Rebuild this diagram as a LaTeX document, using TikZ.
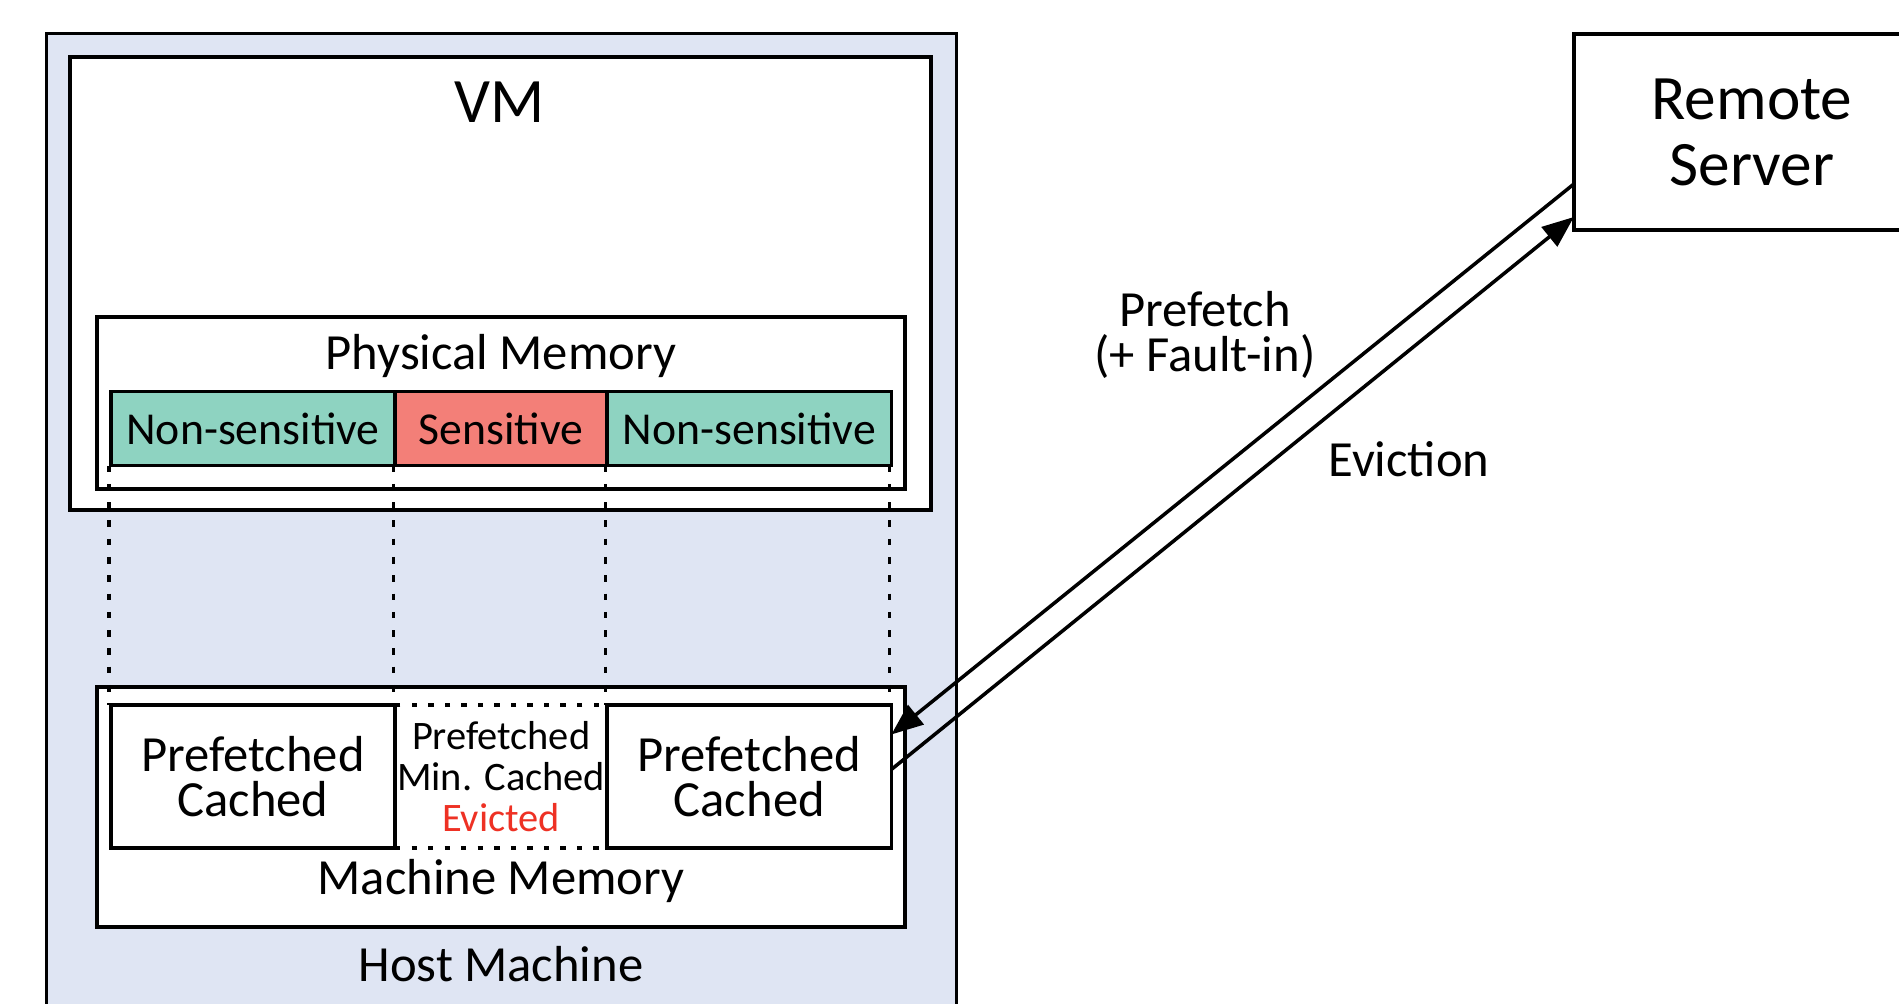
\documentclass[tikz,border=0pt]{standalone}
\usepackage{fontspec}
\setmainfont{Carlito}
\usetikzlibrary{arrows.meta,positioning,calc}

\definecolor{hostblue}{HTML}{DFE5F3}
\definecolor{nsgreen}{HTML}{8ED3C1}
\definecolor{sensred}{HTML}{F37F78}
\definecolor{evictred}{HTML}{EE3124}

\newcommand{\headtxt}{\fontsize{18}{18.8}\selectfont}
\newcommand{\bodytxt}{\fontsize{14.4}{12.8}\selectfont}
\newcommand{\segtxt}{\fontsize{13}{14}\selectfont}
\newcommand{\midtxt}{\fontsize{11.5}{11.6}\selectfont}

\begin{document}
\begin{tikzpicture}[x=0.01cm, y=-0.01cm,
                    every node/.style={inner sep=0pt, outer sep=0pt},
                    box/.style={draw, line width=1pt},
                    seg/.style={box, minimum height=7.4mm, font=\segtxt},
                    cache/.style={box, fill=white, minimum width=28.4mm, minimum height=14.3mm, align=center, font=\bodytxt},
                    link/.style={line width=1pt, -{Triangle[length=9pt,width=7pt]}},
                    gap/.style={line width=0.9pt, dash pattern=on 1.9pt off 3.3pt},
                    dotbox/.style={draw, line width=1pt, dash pattern=on 1.5pt off 3.2pt}]
\useasboundingbox (0,0) rectangle (1899,1004);

% host machine and VM
\node[box, fill=hostblue, minimum width=90.9mm, minimum height=100.6mm] (host) at (501.5,537) {};
\node[anchor=base, font=\bodytxt] (hostlbl) at (501,982) {Host Machine};
\node[box, fill=white, minimum width=86.1mm, minimum height=45.3mm] (vm) at (500.5,283.5) {};
\node[anchor=base, font=\headtxt] (vmlbl) at (500,123) {VM};

% physical memory
\node[box, fill=white, minimum width=80.8mm, minimum height=17.2mm] (phys) at (501,403) {};
\node[anchor=base, font=\bodytxt] (physlbl) at (501,370) {Physical Memory};
\node[seg, fill=nsgreen, minimum width=28.4mm] (ns1) at (253,428.5) {Non-sensitive};
\node[seg, fill=sensred, minimum width=21.2mm, right=0pt of ns1] (sens) {Sensitive};
\node[seg, fill=nsgreen, minimum width=28.4mm, right=0pt of sens] (ns2) {Non-sensitive};

% machine memory
\node[box, fill=white, minimum width=80.8mm, minimum height=24mm] (mach) at (501,807) {};
\node[anchor=base, font=\bodytxt] (machlbl) at (501,895) {Machine Memory};
\node[cache] (lcache) at (253,776.5) {Prefetched\\Cached};
\node[dotbox, minimum width=21.2mm, minimum height=14.3mm, right=0pt of lcache, align=center, font=\midtxt] (mcache) {Prefetched\\Min. Cached\\\textcolor{evictred}{Evicted}};
\node[cache, right=0pt of mcache] (rcache) {Prefetched\\Cached};
\draw[box] (lcache.north west) rectangle (lcache.south east);

% mapping lines
\foreach \a/\b in {ns1.south west/lcache.north west, ns1.south east/lcache.north east,
                   ns2.south west/rcache.north west, ns2.south east/rcache.north east}
  \draw[gap] ($(\a)+(-2,0)$) -- ($(\b)+(-2,0)$);

% remote server
\node[box, fill=white, minimum width=35.6mm, minimum height=19.6mm, align=center, font=\headtxt] (server) at (1752,132) {Remote\\Server};

\draw[link] ($(server.west)+(0,52)$) -- ($(rcache.east)+(0,-42)$);
\draw[link] ($(rcache.east)+(0,-7)$) -- ($(server.west)+(0,85)$);

\node[align=center, font=\bodytxt] (pflbl) at (1205,335) {Prefetch\\(+ Fault-in)};
\node[anchor=base, font=\bodytxt] (evlbl) at (1409,477) {Eviction};

\end{tikzpicture}
\end{document}
